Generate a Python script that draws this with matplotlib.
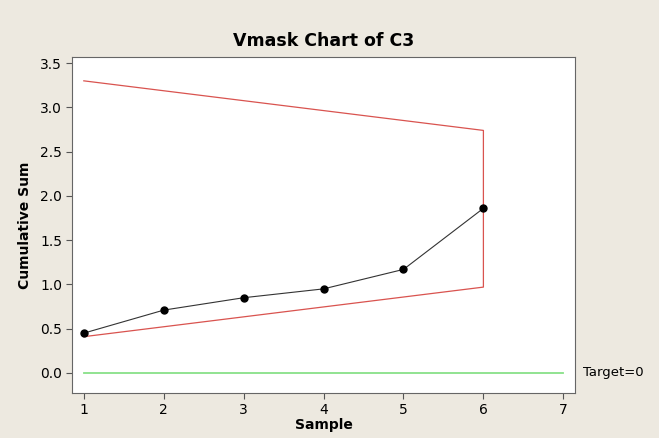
import numpy as np
import matplotlib.pyplot as plt

samples = [1, 2, 3, 4, 5, 6]
cusum = [0.45, 0.71, 0.85, 0.95, 1.17, 1.86]
mask_x = [1, 6, 6, 1]
mask_y = [3.30, 2.74, 0.97, 0.41]
target = 0
yticks = [0.0, 0.5, 1.0, 1.5, 2.0, 2.5, 3.0, 3.5]

bg = '#ede9e0'
fig = plt.figure(figsize=(6.59, 4.38), dpi=100, facecolor=bg)
ax = fig.add_axes([0.109, 0.103, 0.764, 0.767])
ax.set_facecolor('white')

ax.plot(mask_x, mask_y, color='#d9534f', linewidth=0.9)
ax.plot([1, 7], [target, target], color='#88e088', linewidth=1.3)
ax.plot(samples, cusum, color='#333333', linewidth=0.8, marker='o',
        markersize=5, markerfacecolor='black', markeredgecolor='black')

ax.set_xlim(0.85, 7.15)
ax.set_ylim(-0.225, 3.57)
ax.set_xticks(range(1, 8))
ax.set_yticks(yticks)
ax.set_yticklabels([f"{v:.1f}" for v in yticks])
ax.tick_params(labelsize=10, length=4, color='#555555', pad=3)
for s in ax.spines.values():
    s.set_color('#666666')

ax.text(7.25, target, "Target=0", fontsize=9.5, va='center', ha='left')
ax.set_xlabel("Sample", fontsize=10, fontweight='bold', labelpad=1)
ax.set_ylabel("Cumulative Sum", fontsize=10, fontweight='bold', labelpad=6)
ax.set_title("Vmask Chart of C3", fontsize=12.5, fontweight='bold', pad=8)

fig.savefig("out.png", dpi=100, facecolor=bg)
